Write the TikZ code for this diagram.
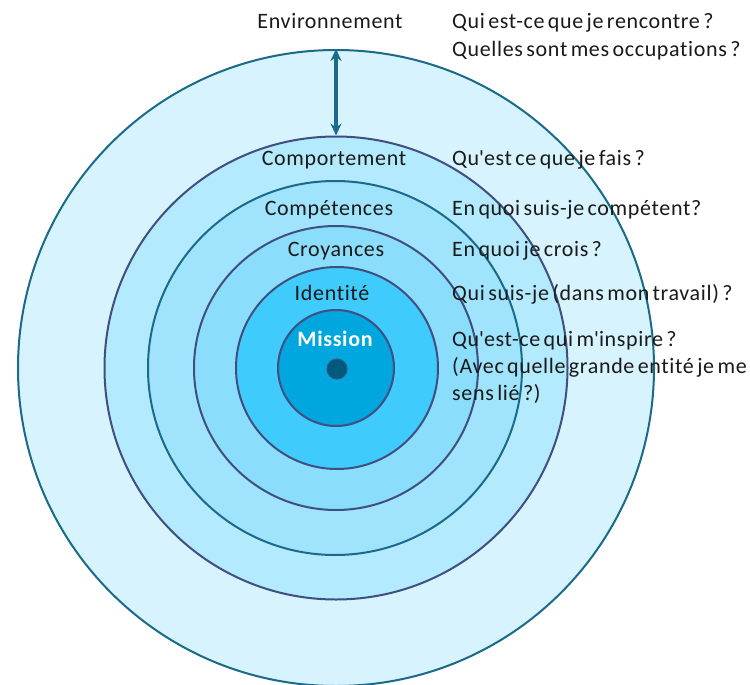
\documentclass[tikz,border=0pt]{standalone}
\usepackage{fontspec}
\setmainfont{Carlito}[Ligatures=NoCommon, LetterSpace=3, WordSpace=0.6]
\usetikzlibrary{arrows.meta}
\definecolor{ringA}{HTML}{D6F3FE}
\definecolor{ringB}{HTML}{B3EAFD}
\definecolor{ringC}{HTML}{9FE4FC}
\definecolor{ringD}{HTML}{8BDEFB}
\definecolor{ringE}{HTML}{3FCBFB}
\definecolor{ringF}{HTML}{00A6DE}
\definecolor{dotc}{HTML}{005A7D}
\definecolor{tealline}{HTML}{1B6A8A}
\definecolor{slateline}{HTML}{3F4F7F}
\definecolor{txt}{HTML}{1A1A1A}
\begin{document}
\begin{tikzpicture}[x=1pt,y=-1pt,
  ring/.style={circle, inner sep=0pt, line width=2pt},
  lbl/.style={font=\fontsize{22}{26}\selectfont, text=txt, inner sep=0pt, anchor=base},
  qst/.style={font=\fontsize{22}{26}\selectfont, text=txt, inner sep=0pt, anchor=base west}]
\useasboundingbox[fill=white] (0,0) rectangle (750,685);
\node[ring, draw=tealline, fill=ringA, minimum size=636pt] (env) at (336,368) {};
\node[ring, draw=slateline, fill=ringB, minimum size=463pt] (comp) at (336,368) {};
\node[ring, draw=tealline, fill=ringC, minimum size=374pt] (cmpt) at (335,368) {};
\node[ring, draw=slateline, fill=ringD, minimum size=284pt] (croy) at (336,368) {};
\node[ring, draw=slateline, fill=ringE, minimum size=202pt] (iden) at (337,368) {};
\node[ring, draw=slateline, fill=ringF, minimum size=116pt] (miss) at (336,368) {};
\node[circle, inner sep=0pt, fill=dotc, draw=slateline, line width=1pt, minimum size=20pt] (dot) at (337,369) {};
\draw[{Stealth[length=12pt,width=11pt]}-{Stealth[length=12pt,width=11pt]}, line width=3.2pt, tealline] (env.north) -- (comp.north);
\node[lbl] (tenv) at (330,29) {Environnement};
\node[lbl] (tcomp) at (334,165) {Comportement};
\node[lbl] (tcmpt) at (329,215) {Compétences};
\node[lbl] (tcroy) at (336,256) {Croyances};
\node[lbl] (tiden) at (332,300) {Identité};
\node[lbl, text=white, font=\bfseries\fontsize{22}{26}\selectfont] (tmiss) at (335,346) {Mission};
\node[qst] (q1) at (452,29) {Qui est-ce que je rencontre ?};
\node[qst] (q2) at (452,57) {Quelles sont mes occupations ?};
\node[qst] (q3) at (452,165) {Qu\textquotesingle est ce que je fais ?};
\node[qst] (q4) at (452,215) {En quoi suis-je compétent?};
\node[qst] (q5) at (452,256) {En quoi je crois ?};
\node[qst] (q6) at (452,300) {Qui suis-je (dans mon travail) ?};
\node[qst] (q7) at (452,346) {Qu\textquotesingle est-ce qui m\textquotesingle inspire ?};
\node[qst] (q8) at (452,373) {(Avec quelle grande entité je me};
\node[qst] (q9) at (452,400) {sens lié ?)};
\end{tikzpicture}
\end{document}
